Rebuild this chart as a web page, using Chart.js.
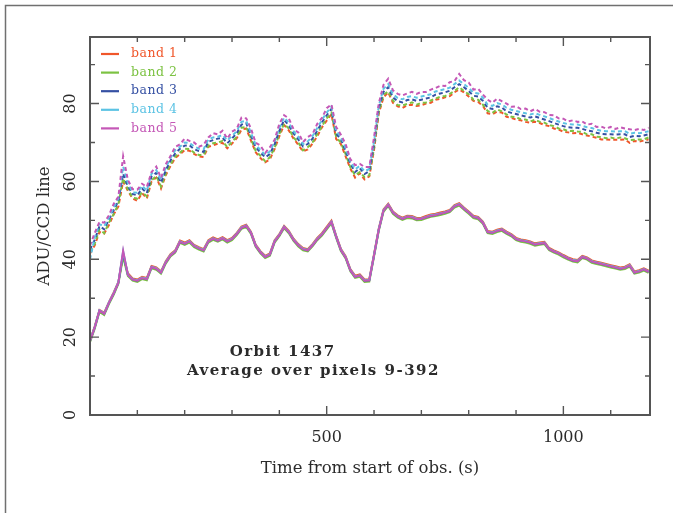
<!DOCTYPE html>
<html><head><meta charset="utf-8">
<script src="https://cdn.jsdelivr.net/npm/chart.js@4"></script>
<style>html,body{margin:0;padding:0;background:#fff;} canvas{display:block;}</style>
</head><body>
<canvas id="c" width="673" height="513"></canvas>
<script>
const times = [0,10,20,30,40,50,60,70,80,90,100,110,120,130,140,150,160,170,180,190,200,210,220,230,240,250,260,270,280,290,300,310,320,330,340,350,360,370,380,390,400,410,420,430,440,450,460,470,480,490,500,510,520,530,540,550,560,570,580,590,600,610,620,630,640,650,660,670,680,690,700,710,720,730,740,750,760,770,780,790,800,810,820,830,840,850,860,870,880,890,900,910,920,930,940,950,960,970,980,990,1000,1010,1020,1030,1040,1050,1060,1070,1080,1090,1100,1110,1120,1130,1140,1150,1160,1170,1180];

const bandNames = ['band 1','band 2','band 3','band 4','band 5'];
const bandColors = ['#f0562a','#7cc242','#3550a3','#5cc3e4','#c457b6'];

const upperBand1 = [41.5,43.6,47.0,46.6,48.8,51.5,53.6,60.0,57.6,55.6,55.0,57.0,55.6,60.0,61.0,58.2,61.6,64.0,66.0,67.0,68.0,67.9,67.1,66.4,66.3,68.9,69.3,69.7,69.9,68.5,69.7,71.1,73.3,73.6,70.5,67.5,66.0,64.9,65.7,68.3,71.6,74.5,73.1,71.0,69.4,67.7,68.2,69.7,71.6,73.9,75.6,77.3,70.9,69.6,66.4,63.3,61.0,62.1,60.5,61.3,68.1,77.4,81.6,82.9,80.2,79.3,78.9,79.6,79.7,79.4,79.6,80.0,80.2,81.0,81.2,81.6,81.9,82.9,83.6,82.9,81.8,80.7,80.4,79.4,77.5,77.3,77.9,77.7,76.6,76.3,75.9,75.7,75.3,75.1,75.3,75.0,74.5,74.2,73.6,73.3,72.8,72.6,72.4,72.5,72.1,71.8,71.5,71.2,70.8,70.8,70.7,70.7,70.7,70.8,69.9,70.4,70.2,70.5,70.8];
const upperBand2 = [42.0,44.0,47.7,46.7,49.4,51.6,54.2,60.8,58.0,55.8,55.6,57.2,56.2,60.3,61.4,58.7,62.0,64.4,66.4,67.4,68.4,68.3,67.4,66.8,66.8,69.2,69.8,70.0,70.4,68.8,70.2,71.4,73.8,74.0,71.0,67.8,66.6,65.2,66.2,68.6,72.2,74.8,73.6,71.3,70.0,68.0,68.8,70.0,72.2,74.2,76.2,77.6,71.4,69.9,67.0,63.6,61.6,62.4,61.1,61.6,68.5,77.8,82.2,83.2,80.8,79.6,79.5,79.9,80.3,79.7,80.2,80.3,80.8,81.3,81.8,81.9,82.5,83.2,84.2,83.2,82.4,81.0,81.0,79.7,78.1,77.6,78.5,78.0,77.2,76.6,76.5,76.0,75.9,75.4,75.9,75.3,75.1,74.5,74.2,73.6,73.4,72.9,73.0,72.8,72.7,72.1,72.1,71.5,71.4,71.1,71.3,71.0,71.3,71.1,70.6,70.7,70.8,70.8,71.3];
const upperBand3 = [42.5,45.0,48.5,47.7,50.2,52.6,55.0,62.0,58.8,56.8,56.4,58.2,57.0,61.3,62.2,59.7,62.8,65.4,67.2,68.4,69.2,69.3,68.3,67.8,67.6,70.2,70.6,71.0,71.2,69.8,71.0,72.4,74.6,75.0,71.8,68.8,67.4,66.2,67.0,69.6,73.0,75.8,74.4,72.3,70.8,69.0,69.6,71.0,73.0,75.2,77.0,78.6,72.2,70.9,67.8,64.6,62.4,63.4,61.9,62.6,69.5,78.8,83.0,84.2,81.6,80.6,80.3,80.9,81.1,80.7,81.0,81.3,81.6,82.3,82.6,82.9,83.3,84.2,85.0,84.2,83.2,82.0,81.8,80.7,78.9,78.6,79.3,79.0,78.0,77.6,77.3,77.0,76.7,76.4,76.7,76.3,75.9,75.5,75.0,74.6,74.2,73.9,73.8,73.8,73.5,73.1,72.9,72.5,72.2,72.1,72.1,72.0,72.1,72.1,71.4,71.7,71.6,71.8,72.1];
const upperBand4 = [40.0,45.6,49.0,48.5,50.7,53.3,55.7,63.8,59.6,57.2,57.1,58.9,57.6,62.0,62.9,60.4,63.5,66.0,68.0,68.9,70.0,69.9,69.0,68.4,68.3,70.8,71.3,71.5,71.9,70.5,71.7,72.9,75.3,75.6,72.5,69.4,68.1,66.8,67.7,70.2,73.7,76.4,75.1,72.9,71.5,69.6,70.3,71.6,73.7,75.8,77.7,79.2,72.9,71.5,68.5,65.2,63.1,64.0,62.6,63.2,70.3,79.4,83.8,85.0,82.4,81.4,81.1,81.7,81.9,81.5,81.8,82.1,82.4,83.1,83.4,83.7,84.1,85.0,85.9,85.0,84.0,82.8,82.6,81.5,79.7,79.4,80.1,79.8,78.9,78.4,78.1,77.8,77.5,77.2,77.5,77.1,76.7,76.3,75.8,75.4,75.0,74.7,74.6,74.6,74.3,73.9,73.7,73.3,73.0,72.9,72.9,72.8,72.9,72.9,72.2,72.5,72.4,72.6,72.9];
const upperBand5 = [43.5,46.8,49.6,49.4,51.3,54.2,56.1,66.5,60.4,58.0,57.9,59.4,58.6,62.4,63.8,60.9,64.4,66.5,68.9,69.5,71.0,70.4,70.0,68.9,69.4,71.3,72.4,72.1,73.0,71.0,72.8,73.5,76.4,76.2,73.6,69.9,69.2,67.3,68.8,70.7,74.8,77.0,76.2,73.4,72.6,70.1,71.4,72.1,74.8,76.3,78.8,79.8,74.0,72.0,69.6,65.7,64.2,64.5,63.7,63.7,71.3,80.0,84.8,86.4,83.4,82.5,82.1,82.6,83.0,82.5,83.0,83.0,83.6,84.0,84.6,84.5,85.5,85.8,87.6,86.0,85.4,83.6,83.8,82.3,81.0,80.2,81.3,80.6,80.0,79.2,79.3,78.6,78.7,78.0,78.6,77.9,77.8,77.1,77.0,76.2,76.1,75.4,75.7,75.3,75.4,74.6,74.8,74.0,74.1,73.6,74.0,73.5,73.9,73.6,73.4,73.2,73.5,73.2,73.8];

const lowerBand1 = [19.2,22.8,27.0,26.3,29.0,31.5,34.2,41.0,36.4,35.1,34.8,35.5,35.2,38.3,37.9,36.9,39.5,41.3,42.3,44.8,44.3,44.9,43.7,43.1,42.6,44.9,45.6,45.1,45.7,44.9,45.5,46.8,48.4,48.9,47.1,43.8,42.1,40.9,41.5,44.9,46.5,48.6,47.3,45.3,43.9,42.9,42.6,43.9,45.5,46.7,48.3,49.9,46.1,42.7,40.8,37.5,35.8,36.1,34.8,34.9,41.3,47.9,52.8,54.3,52.3,51.3,50.7,51.2,51.1,50.6,50.7,51.1,51.5,51.7,52.0,52.3,52.7,53.9,54.4,53.3,52.3,51.2,50.9,49.7,47.3,47.1,47.6,47.9,47.1,46.5,45.5,45.1,44.9,44.6,44.1,44.3,44.5,42.9,42.3,41.8,41.1,40.5,40.0,39.8,40.9,40.5,39.7,39.4,39.1,38.8,38.5,38.2,37.9,38.1,38.7,36.9,37.2,37.7,37.1];
const lowerBand2 = [18.7,22.2,26.5,25.7,28.5,30.9,33.7,40.6,35.7,34.5,34.2,34.9,34.6,37.7,37.3,36.3,38.9,40.7,41.7,44.2,43.7,44.3,43.1,42.5,42.0,44.3,45.0,44.5,45.1,44.3,44.9,46.2,47.8,48.3,46.5,43.2,41.5,40.3,40.9,44.3,45.9,48.0,46.7,44.7,43.3,42.3,42.0,43.3,44.9,46.1,47.7,49.3,45.5,42.1,40.2,36.9,35.2,35.5,34.2,34.3,40.7,47.3,52.2,53.7,51.7,50.7,50.1,50.6,50.5,50.0,50.1,50.5,50.9,51.1,51.4,51.7,52.1,53.3,53.8,52.7,51.7,50.6,50.3,49.1,46.7,46.5,47.0,47.3,46.5,45.9,44.9,44.5,44.3,44.0,43.5,43.7,43.9,42.3,41.7,41.2,40.5,39.9,39.4,39.2,40.3,39.9,39.1,38.8,38.5,38.2,37.9,37.6,37.3,37.5,38.1,36.3,36.6,37.1,36.5];
const lowerBand3 = [19.0,22.5,26.8,26.0,28.8,31.2,34.0,41.5,36.0,34.8,34.5,35.2,34.9,38.0,37.6,36.6,39.2,41.0,42.0,44.5,44.0,44.6,43.4,42.8,42.3,44.6,45.3,44.8,45.4,44.6,45.2,46.5,48.1,48.6,46.8,43.5,41.8,40.6,41.2,44.6,46.2,48.3,47.0,45.0,43.6,42.6,42.3,43.6,45.2,46.4,48.0,49.6,45.8,42.4,40.5,37.2,35.5,35.8,34.5,34.6,41.0,47.6,52.5,54.0,52.0,51.0,50.4,50.9,50.8,50.3,50.4,50.8,51.2,51.4,51.7,52.0,52.4,53.6,54.1,53.0,52.0,50.9,50.6,49.4,47.0,46.8,47.3,47.6,46.8,46.2,45.2,44.8,44.6,44.3,43.8,44.0,44.2,42.6,42.0,41.5,40.8,40.2,39.7,39.5,40.6,40.2,39.4,39.1,38.8,38.5,38.2,37.9,37.6,37.8,38.4,36.6,36.9,37.4,36.8];
const lowerBand4 = [19.1,22.6,26.9,26.1,28.9,31.3,34.1,42.0,36.1,34.9,34.6,35.3,35.0,38.1,37.7,36.7,39.3,41.1,42.1,44.6,44.1,44.7,43.5,42.9,42.4,44.7,45.4,44.9,45.5,44.7,45.3,46.6,48.2,48.7,46.9,43.6,41.9,40.7,41.3,44.7,46.3,48.4,47.1,45.1,43.7,42.7,42.4,43.7,45.3,46.5,48.1,49.7,45.9,42.5,40.6,37.3,35.6,35.9,34.6,34.7,41.1,47.7,52.6,54.1,52.1,51.1,50.5,51.0,50.9,50.4,50.5,50.9,51.3,51.5,51.8,52.1,52.5,53.7,54.2,53.1,52.1,51.0,50.7,49.5,47.1,46.9,47.4,47.7,46.9,46.3,45.3,44.9,44.7,44.4,43.9,44.1,44.3,42.7,42.1,41.6,40.9,40.3,39.8,39.6,40.7,40.3,39.5,39.2,38.9,38.6,38.3,38.0,37.7,37.9,38.5,36.7,37.0,37.5,36.9];
const lowerBand5 = [19.0,22.5,26.8,26.0,28.8,31.2,34.0,42.2,36.0,34.8,34.5,35.2,34.9,38.0,37.6,36.6,39.2,41.0,42.0,44.5,44.0,44.6,43.4,42.8,42.3,44.6,45.3,44.8,45.4,44.6,45.2,46.5,48.1,48.6,46.8,43.5,41.8,40.6,41.2,44.6,46.2,48.3,47.0,45.0,43.6,42.6,42.3,43.6,45.2,46.4,48.0,49.6,45.8,42.4,40.5,37.2,35.5,35.8,34.5,34.6,41.0,47.6,52.5,54.0,52.0,51.0,50.4,50.9,50.8,50.3,50.4,50.8,51.2,51.4,51.7,52.0,52.4,53.6,54.1,53.0,52.0,50.9,50.6,49.4,47.0,46.8,47.3,47.6,46.8,46.2,45.2,44.8,44.6,44.3,43.8,44.0,44.2,42.6,42.0,41.5,40.8,40.2,39.7,39.5,40.6,40.2,39.4,39.1,38.8,38.5,38.2,37.9,37.6,37.8,38.4,36.6,36.9,37.4,36.8];

const xTickLabels = [500, 1000];
const yTickLabels = [0, 20, 40, 60, 80];
const xTitle = 'Time from start of obs. (s)';
const yTitle = 'ADU/CCD line';
const noteLines = ['Orbit 1437', 'Average over pixels 9-392'];
const noteAnchors = [[407, 16.1], [472, 11.2]];

const upperSets = [upperBand1, upperBand2, upperBand3, upperBand4, upperBand5];
const lowerSets = [lowerBand1, lowerBand2, lowerBand3, lowerBand4, lowerBand5];

function pts(vals){ const n = Math.min(times.length, vals.length); const a = []; for (let i = 0; i < n; i++) a.push({x: times[i], y: vals[i]}); return a; }

const datasets = [];
// first dataset is drawn on top in Chart.js -> put band 5 first
for (let b = 4; b >= 0; b--) {
  datasets.push({label: bandNames[b] + ' lower', data: pts(lowerSets[b]), borderColor: bandColors[b], borderWidth: 2, pointRadius: 0, tension: 0, fill: false});
}
for (let b = 4; b >= 0; b--) {
  datasets.push({label: bandNames[b] + ' upper', data: pts(upperSets[b]), borderColor: bandColors[b], borderWidth: 2, borderDash: [4, 3], pointRadius: 0, tension: 0, fill: false});
}

const SERIF = '"DejaVu Serif", "Liberation Serif", serif';
const deco = {
  id: 'deco',
  afterDraw(chart) {
    const ctx = chart.ctx, a = chart.chartArea, xs = chart.scales.x, ys = chart.scales.y;
    ctx.save();
    // outer figure frame (top and left)
    ctx.strokeStyle = '#707070'; ctx.lineWidth = 1.5;
    ctx.beginPath(); ctx.moveTo(5.5, 513); ctx.lineTo(5.5, 5.5); ctx.lineTo(673, 5.5); ctx.stroke();
    // inward ticks
    ctx.strokeStyle = '#555'; ctx.lineWidth = 1.4;
    for (let v = 100; v < xs.max; v += 100) {
      const p = xs.getPixelForValue(v); const L = (v % 500 === 0) ? 9 : 5;
      ctx.beginPath(); ctx.moveTo(p, a.bottom); ctx.lineTo(p, a.bottom - L); ctx.moveTo(p, a.top); ctx.lineTo(p, a.top + L); ctx.stroke();
    }
    for (let v = 10; v < ys.max; v += 10) {
      const p = ys.getPixelForValue(v); const L = (v % 20 === 0) ? 9 : 5;
      ctx.beginPath(); ctx.moveTo(a.left, p); ctx.lineTo(a.left + L, p); ctx.moveTo(a.right, p); ctx.lineTo(a.right - L, p); ctx.stroke();
    }
    // plot frame
    ctx.strokeStyle = '#555'; ctx.lineWidth = 2;
    ctx.strokeRect(a.left, a.top, a.right - a.left, a.bottom - a.top);
    // tick labels
    ctx.fillStyle = '#2b2b2b';
    ctx.font = '16px ' + SERIF; ctx.textAlign = 'center'; ctx.textBaseline = 'middle';
    xTickLabels.forEach(v => ctx.fillText(String(v), xs.getPixelForValue(v), a.bottom + 23));
    yTickLabels.forEach(v => {
      ctx.save(); ctx.translate(a.left - 19, ys.getPixelForValue(v)); ctx.rotate(-Math.PI / 2);
      ctx.fillText(String(v), 0, 0); ctx.restore();
    });
    // axis titles
    ctx.font = '16.5px ' + SERIF;
    ctx.fillText(xTitle, (a.left + a.right) / 2, a.bottom + 54);
    ctx.save(); ctx.translate(a.left - 45, (a.top + a.bottom) / 2); ctx.rotate(-Math.PI / 2);
    ctx.fillText(yTitle, 0, 0); ctx.restore();
    // legend
    ctx.font = '12.5px ' + SERIF; ctx.textAlign = 'left';
    try { ctx.letterSpacing = '0.5px'; } catch (e) {}
    for (let b = 0; b < 5; b++) {
      const y = a.top + 17 + b * 18.6;
      ctx.strokeStyle = bandColors[b]; ctx.lineWidth = 2.2;
      ctx.beginPath(); ctx.moveTo(a.left + 11, y); ctx.lineTo(a.left + 29, y); ctx.stroke();
      ctx.fillStyle = bandColors[b]; ctx.fillText(bandNames[b], a.left + 41, y);
    }
    // notes
    ctx.fillStyle = '#2b2b2b'; ctx.textAlign = 'center';
    ctx.font = 'bold 15px ' + SERIF;
    try { ctx.letterSpacing = '1.5px'; } catch (e) {}
    noteLines.forEach((t, i) => ctx.fillText(t, xs.getPixelForValue(noteAnchors[i][0]), ys.getPixelForValue(noteAnchors[i][1])));
    ctx.restore();
  }
};

new Chart(document.getElementById('c'), {
  type: 'line',
  data: { datasets },
  options: {
    responsive: false, animation: false, events: [],
    layout: { padding: { left: 0, top: 37, right: 23, bottom: 0 } },
    plugins: { legend: { display: false }, tooltip: { enabled: false } },
    scales: {
      x: { type: 'linear', min: 0, max: 1183, ticks: { display: false }, grid: { display: false }, border: { display: false },
           afterFit(s) { s.height = 98; } },
      y: { type: 'linear', min: 0, max: 97.1, ticks: { display: false }, grid: { display: false }, border: { display: false },
           afterFit(s) { s.width = 90; } }
    }
  },
  plugins: [deco]
});
</script>
</body></html>
